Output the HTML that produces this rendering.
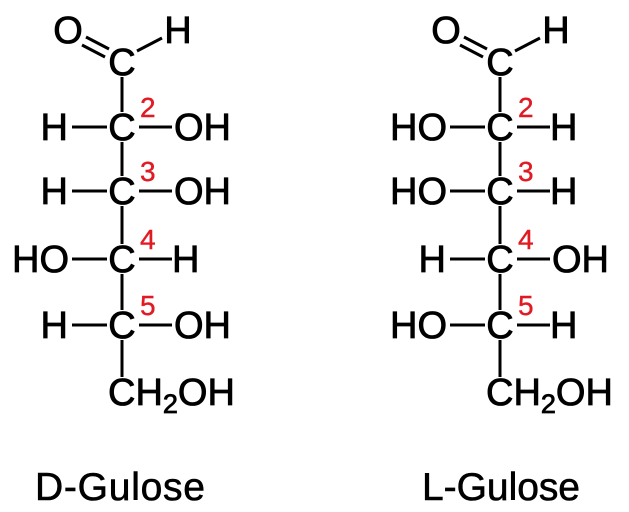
<!DOCTYPE html>
<html><head><meta charset="utf-8"><style>html,body{margin:0;padding:0;background:#fff}svg{display:block}</style></head>
<body>
<svg width="629" height="512" viewBox="0 0 629 512" xmlns="http://www.w3.org/2000/svg" font-family="Liberation Sans, Arial, sans-serif">
<defs>
<g id="bb" stroke="#000" stroke-width="3" fill="none">
  <line x1="86" y1="37" x2="109" y2="49"/>
  <line x1="82" y1="45" x2="105" y2="57"/>
  <line x1="137" y1="51" x2="162" y2="38"/>
  <line x1="122" y1="77" x2="122" y2="112"/>
  <line x1="122" y1="142" x2="122" y2="176"/>
  <line x1="122" y1="206" x2="122" y2="244"/>
  <line x1="122" y1="274" x2="122" y2="310"/>
  <line x1="122" y1="340" x2="122" y2="377"/>
  <line x1="72" y1="127" x2="107" y2="127"/><line x1="139" y1="127" x2="172" y2="127"/>
  <line x1="72" y1="191" x2="107" y2="191"/><line x1="139" y1="191" x2="172" y2="191"/>
  <line x1="72" y1="259" x2="107" y2="259"/><line x1="139" y1="259" x2="172" y2="259"/>
  <line x1="72" y1="325" x2="107" y2="325"/><line x1="139" y1="325" x2="172" y2="325"/>
</g>
<g id="cc" font-size="38" fill="#000" stroke="#000" stroke-width="0.8" text-anchor="middle">
  <text x="68" y="43">O</text>
  <text x="178" y="43">H</text>
  <text x="122" y="75">C</text>
  <text x="122" y="140">C</text>
  <text x="122" y="204">C</text>
  <text x="122" y="272">C</text>
  <text x="122" y="338">C</text>
  <text x="108" y="405" text-anchor="start">CH<tspan font-size="27" dy="8">2</tspan><tspan dy="-8">OH</tspan></text>
  <g fill="#e01b24" stroke="#e01b24" stroke-width="0.4" font-size="28" text-anchor="start">
    <text x="140" y="117">2</text><text x="140" y="181">3</text><text x="140" y="249">4</text><text x="140" y="315">5</text>
  </g>
</g>
</defs>
<use href="#bb"/><use href="#cc"/>
<g transform="translate(378,0)"><use href="#bb"/><use href="#cc"/></g>
<g font-size="38" fill="#000" stroke="#000" stroke-width="0.8">
  <text x="68" y="140" text-anchor="end">H</text><text x="174" y="140">OH</text>
  <text x="68" y="204" text-anchor="end">H</text><text x="174" y="204">OH</text>
  <text x="69" y="272" text-anchor="end">HO</text><text x="172" y="272">H</text>
  <text x="68" y="338" text-anchor="end">H</text><text x="174" y="338">OH</text>

  <text x="447" y="140" text-anchor="end">HO</text><text x="550" y="140">H</text>
  <text x="447" y="204" text-anchor="end">HO</text><text x="550" y="204">H</text>
  <text x="446" y="272" text-anchor="end">H</text><text x="552" y="272">OH</text>
  <text x="447" y="338" text-anchor="end">HO</text><text x="550" y="338">H</text>
</g>
<g font-size="39" fill="#000" stroke="#000" stroke-width="0.6">
  <text x="35" y="500" textLength="170">D-Gulose</text>
  <text x="422" y="500" textLength="158">L-Gulose</text>
</g>
</svg>
</body></html>
